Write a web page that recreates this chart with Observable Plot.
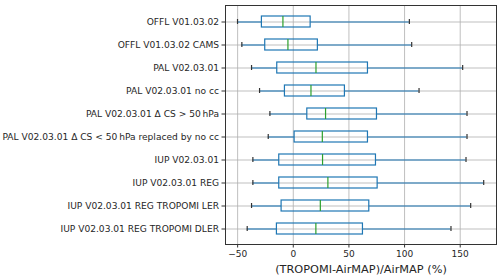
<!DOCTYPE html>
<html><head><meta charset="utf-8">
<script src="https://cdn.jsdelivr.net/npm/d3@7"></script>
<script src="https://cdn.jsdelivr.net/npm/@observablehq/plot@0.6"></script>
<style>
body{margin:0;background:#fff;}
#chart svg{display:block;overflow:visible;}
</style>
</head><body><div id="chart"></div>
<script>
const categories = [
  "OFFL V01.03.02",
  "OFFL V01.03.02 CAMS",
  "PAL V02.03.01",
  "PAL V02.03.01 no cc",
  "PAL V02.03.01 \u0394 CS > 50\u2009hPa",
  "PAL V02.03.01 \u0394 CS < 50\u2009hPa replaced by no cc",
  "IUP V02.03.01",
  "IUP V02.03.01 REG",
  "IUP V02.03.01 REG TROPOMI LER",
  "IUP V02.03.01 REG TROPOMI DLER"
];
const whiskerLow  = [-50.1, -46.2, -37.5, -30.3, -21.0, -22.5, -36.3, -36.3, -37.5, -41.4];
const q1          = [-28.2, -25.2, -14.4,  -7.5,  12.6,   1.2, -12.6, -12.6, -10.5, -14.7];
const median      = [ -9.3,  -4.8,  20.4,  15.9,  29.0,  26.1,  26.3,  31.1,  24.3,  20.3];
const q3          = [ 15.6,  22.1,  67.1,  46.4,  75.2,  67.1,  74.3,  75.8,  68.3,  62.6];
const whiskerHigh = [104.3, 106.4, 152.2, 113.0, 156.1, 156.1, 155.2, 171.1, 159.4, 141.7];
const xTicks = [-50, 0, 50, 100, 150];
const xLabel = "(TROPOMI-AirMAP)/AirMAP (%)";

const data = categories.map((c, i) => ({
  cat: c, lo: whiskerLow[i], q1: q1[i], med: median[i], q3: q3[i], hi: whiskerHigh[i]
}));

const blue = "#1f77b4", green = "#2ca02c", grid = "#b0b0b0";

const chart = Plot.plot({
  width: 500,
  height: 278,
  marginLeft: 225,
  marginRight: 4,
  marginTop: 5,
  marginBottom: 34,
  style: {fontFamily: "'DejaVu Sans', sans-serif", fontSize: "9px", color: "#262626", background: "#fff", overflow: "visible"},
  x: {domain: [-60.9, 182.6]},
  y: {type: "band", domain: categories, padding: 0},
  marks: [
    Plot.gridX(xTicks, {stroke: grid, strokeOpacity: 0.9, strokeWidth: 0.9}),
    Plot.gridY(categories, {stroke: grid, strokeOpacity: 0.9, strokeWidth: 0.9}),
    Plot.ruleY(data, {y: "cat", x1: "lo", x2: "q1", stroke: blue, strokeWidth: 1.1}),
    Plot.ruleY(data, {y: "cat", x1: "q3", x2: "hi", stroke: blue, strokeWidth: 1.1}),
    Plot.barX(data, {y: "cat", x1: "q1", x2: "q3", fill: "none", stroke: blue, strokeWidth: 1.2, insetTop: 6, insetBottom: 6}),
    Plot.tickX(data, {y: "cat", x: "med", stroke: green, strokeWidth: 1.2, insetTop: 6, insetBottom: 6}),
    Plot.tickX(data, {y: "cat", x: "lo", stroke: "#333", strokeWidth: 1.2, insetTop: 9, insetBottom: 9}),
    Plot.tickX(data, {y: "cat", x: "hi", stroke: "#333", strokeWidth: 1.2, insetTop: 9, insetBottom: 9}),
    Plot.frame({stroke: "#333", strokeWidth: 1}),
    Plot.axisY({tickSize: 3.5, tickPadding: 3, label: null, fontSize: 9.1, stroke: "#333"}),
    Plot.axisX({ticks: xTicks, tickSize: 3.5, tickPadding: 2.5, label: null, tickFormat: d => d < 0 ? "\u2212" + Math.abs(d) : String(d), fontSize: 9, stroke: "#333"}),
    Plot.axisX({ticks: [], label: xLabel, labelAnchor: "center", labelArrow: "none", labelOffset: 28.5, fontSize: 11.3, tickSize: 0})
  ]
});
document.getElementById("chart").appendChild(chart);
</script>
</body></html>
